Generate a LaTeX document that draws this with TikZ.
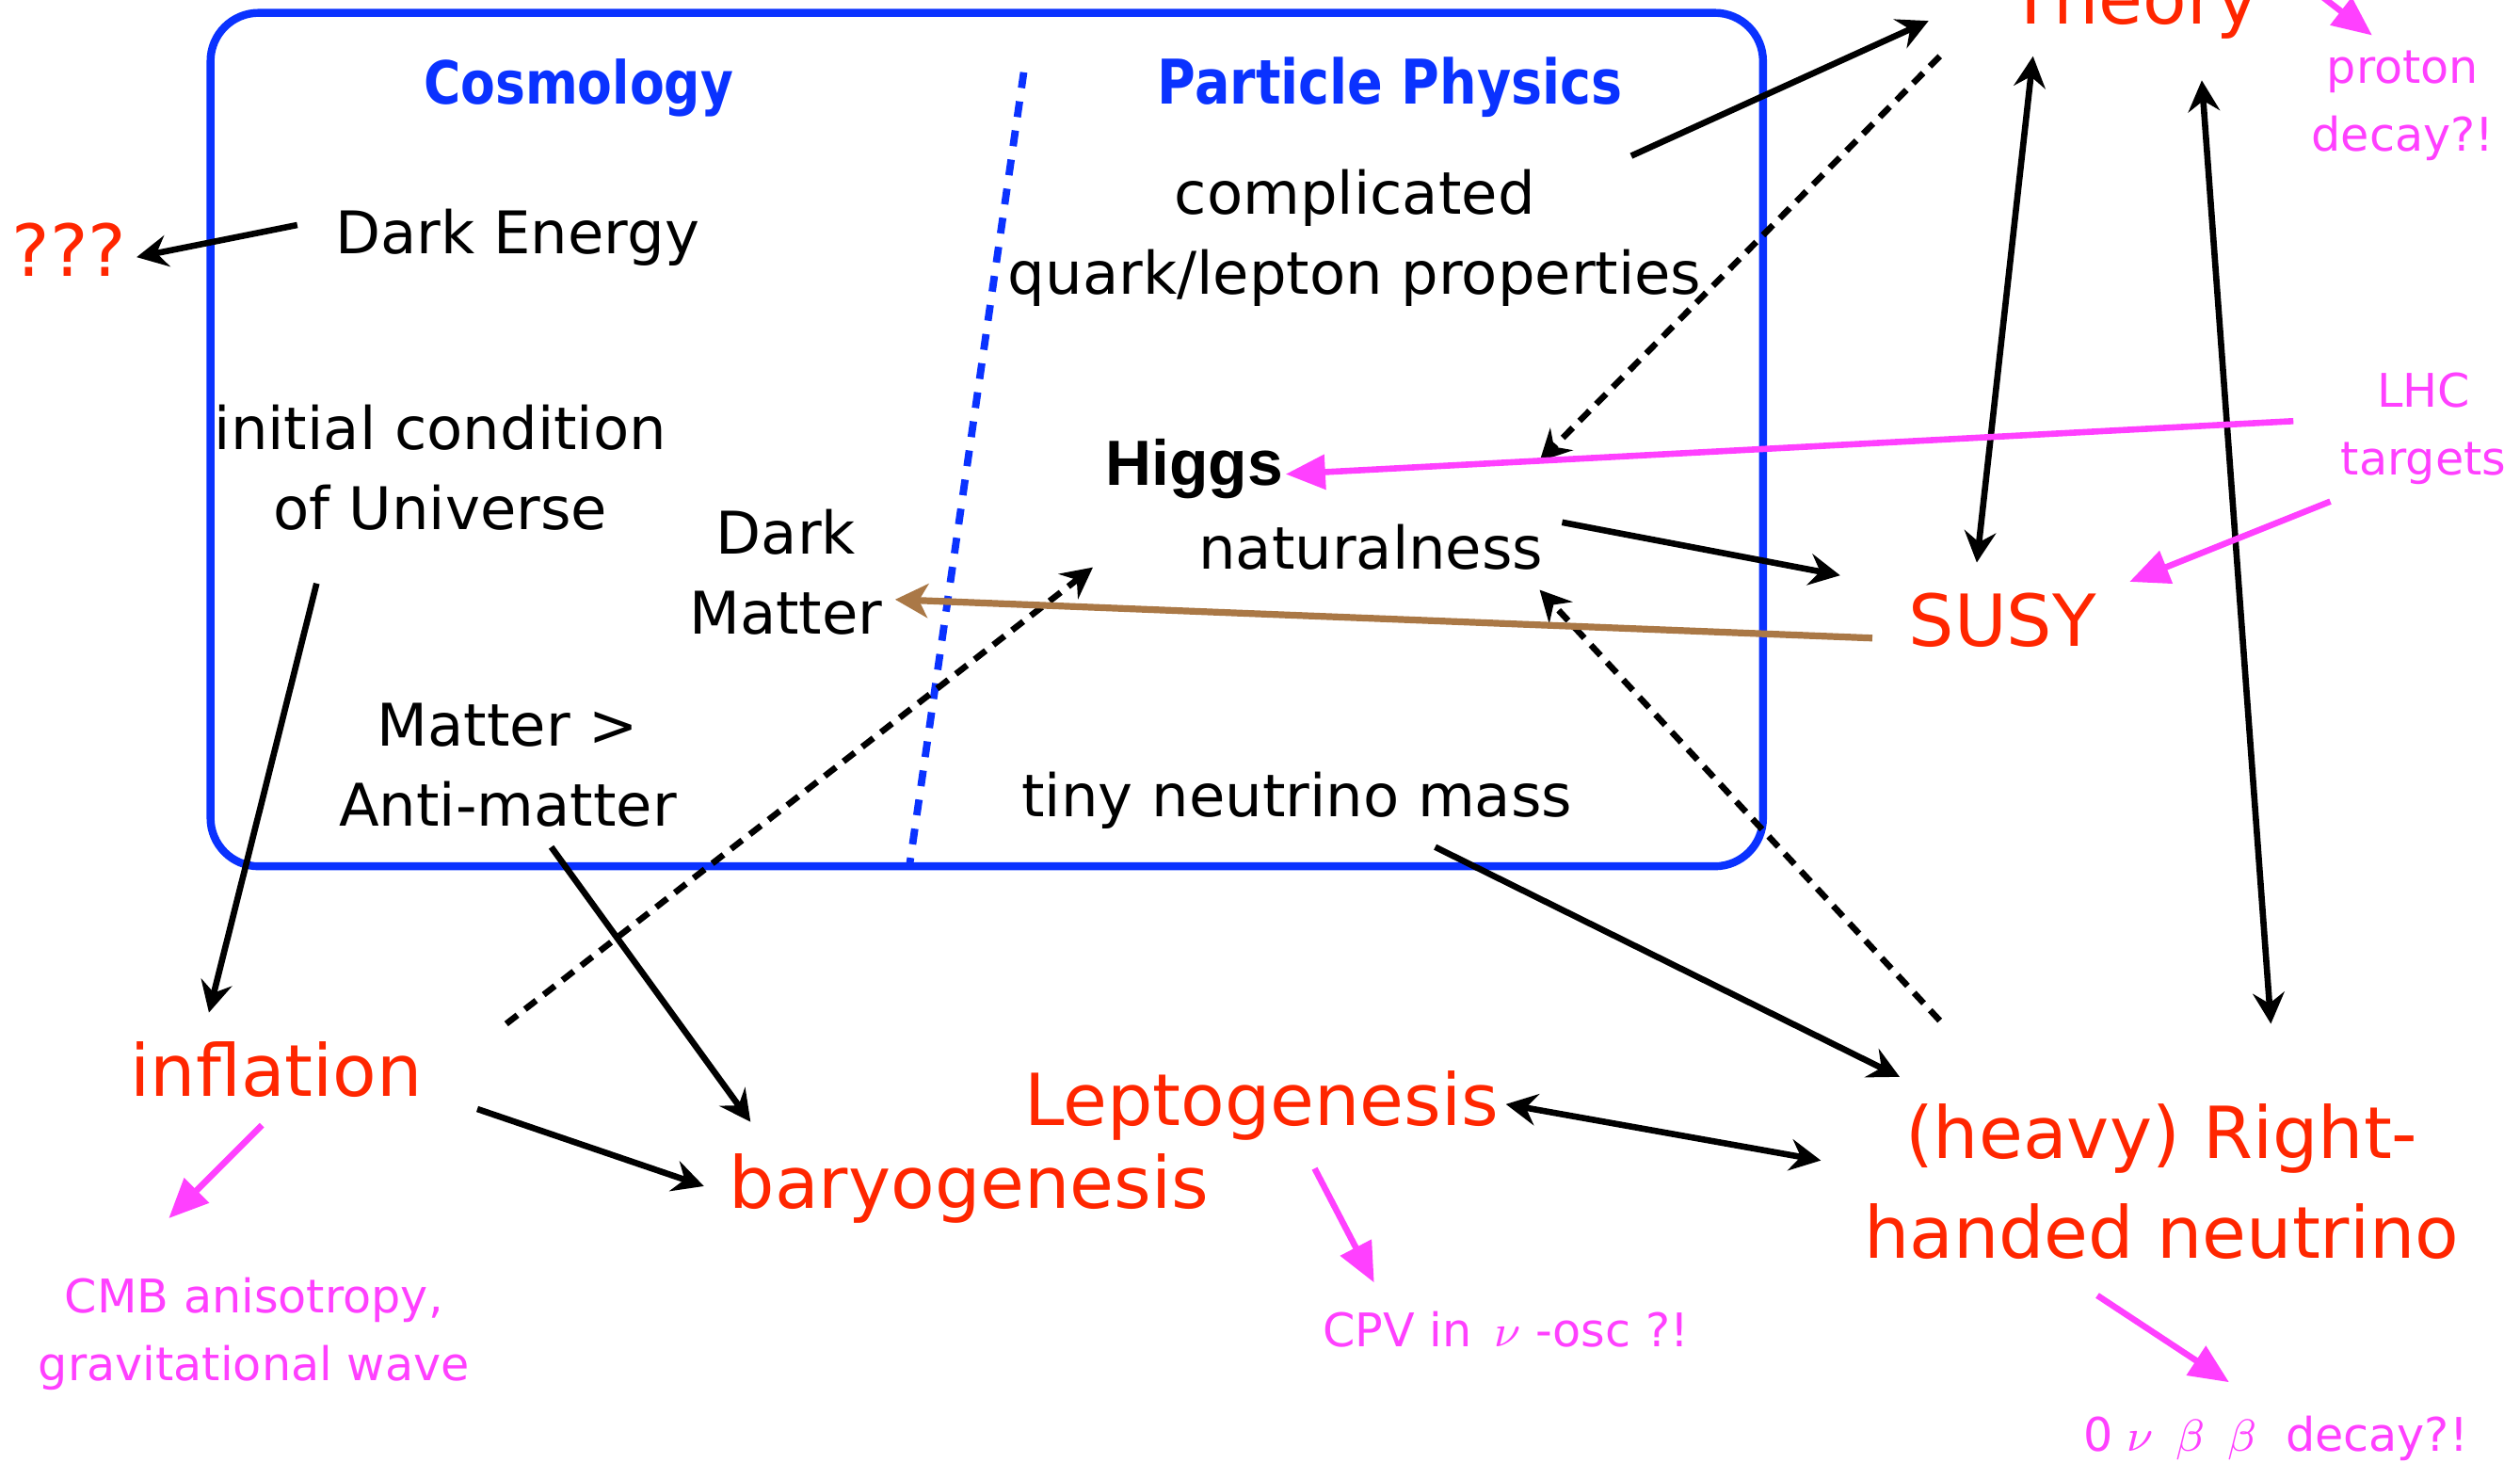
\documentclass[tikz,border=0pt]{standalone}
\usepackage{fontspec}
\setmainfont{DejaVu Sans}
\newfontfamily\condsans[FakeStretch=0.85]{DejaVu Sans}
\newfontfamily\higgsfont{Liberation Sans}
\usetikzlibrary{arrows.meta}
\definecolor{boxblue}{RGB}{10,50,255}
\definecolor{redtxt}{RGB}{255,38,0}
\definecolor{magtxt}{RGB}{255,64,255}
\definecolor{browntxt}{RGB}{170,120,70}
\tikzset{
  blk/.style={font=\fontsize{10.4}{14.2}\selectfont, inner sep=0pt, align=center},
  hdr/.style={font=\condsans\bfseries\fontsize{10.5}{12}\selectfont, text=boxblue, inner sep=0pt},
  rtx/.style={font=\fontsize{12.7}{17.6}\selectfont, text=redtxt, inner sep=0pt, align=center},
  mtx/.style={font=\fontsize{8.2}{12}\selectfont, text=magtxt, inner sep=0pt, align=center},
  arr/.style={line width=1.1pt, -{Stealth[length=5.5pt,width=5.6pt,inset=1.9pt]}},
  darr/.style={line width=1.1pt, {Stealth[length=5.5pt,width=5.6pt,inset=1.9pt]}-{Stealth[length=5.5pt,width=5.6pt,inset=1.9pt]}},
  dsh/.style={dash pattern=on 2.5pt off 1.7pt},
  marr/.style={magtxt, line width=1.1pt, -{Triangle[length=7pt,width=6pt]}},
  brarr/.style={browntxt, line width=1.2pt, -{Stealth[length=5.8pt,width=6pt,inset=1.6pt]}}
}
\begin{document}
\begin{tikzpicture}[x=0.01cm,y=-0.01cm]
\useasboundingbox (0,0) rectangle (1568,910);
\clip (0,0) rectangle (1568,910);
% box and divider
\draw[boxblue, line width=1.4pt, rounded corners=0.3cm] (131,8) rectangle (1097,539);
\draw[boxblue, line width=1.3pt, dash pattern=on 2.8pt off 2.4pt] (637,45) -- (566,538);
% headers
\node[hdr, anchor=base] (cos) at (360,65) {Cosmology};
\node[hdr, anchor=base, font=\condsans\bfseries\fontsize{10.9}{12}\selectfont] (pp) at (865,65) {Particle Physics};
% black texts
\node[blk, anchor=base] (de) at (322,158) {Dark Energy};
\node[blk] (cq) at (843,148) {complicated\\quark/lepton properties};
\node[blk] (ic) at (274,291) {initial condition\\of Universe};
\node[blk] (dm) at (489,356) {Dark\\Matter};
\node[blk, anchor=base, font=\higgsfont\bfseries\fontsize{11.3}{13}\selectfont] (hig) at (743,302) {Higgs};
\node[blk, anchor=base] (nat) at (853,354) {naturalness};
\node[blk] (mam) at (316,476) {Matter >\\Anti-matter};
\node[blk, anchor=base] (tnm) at (807,508) {tiny neutrino mass};
% red texts
\node[rtx, anchor=base] (qqq) at (43,172) {???};
\node[rtx, anchor=base] (th) at (1328,15) {Theory};
\node[rtx, anchor=base] (susy) at (1246,402) {SUSY};
\node[rtx, anchor=base] (inf) at (172,682) {inflation};
\node[rtx, anchor=base] (bar) at (603,752) {baryogenesis};
\node[rtx, anchor=base] (lep) at (785,700) {Leptogenesis};
\node[rtx] (rhn) at (1345,735) {(heavy) Right-\\handed neutrino};
% magenta texts
\node[mtx] (pd) at (1495,66) {proton\\decay?!};
\node[mtx] (lhc) at (1508,267) {LHC\\targets};
\node[mtx] (cmb) at (158,830) {CMB anisotropy,\\gravitational wave};
\node[mtx, anchor=base] (cpv) at (937,838) {CPV in \,$\nu$ -osc ?!};
\node[mtx, anchor=base] (onbb) at (1416,903) {0\hspace{2.5pt}$\nu$\hspace{4pt}$\beta$\hspace{4pt}$\beta$\hspace{5pt}decay?!};
% connector end points
\coordinate (deA) at (185,140); \coordinate (qqqA) at (85,160);
\coordinate (cqA) at (1015,97); \coordinate (thA) at (1200,13);
\coordinate (thB) at (1207,35); \coordinate (higA) at (958,287);
\coordinate (thC) at (1265,35); \coordinate (susyA) at (1230,350);
\coordinate (thD) at (1370,50); \coordinate (rhnA) at (1413,637);
\coordinate (natA) at (972,325); \coordinate (susyB) at (1145,358);
\coordinate (tnmA) at (893,527); \coordinate (rhnB) at (1182,670);
\coordinate (lepA) at (937,687); \coordinate (rhnC) at (1133,722);
\coordinate (icA) at (197,363); \coordinate (infA) at (130,630);
\coordinate (mamA) at (343,527); \coordinate (barA) at (467,698);
\coordinate (infB) at (297,690); \coordinate (barB) at (438,738);
\coordinate (infC) at (315,637); \coordinate (natB) at (680,353);
\coordinate (rhnD) at (1207,635); \coordinate (natC) at (958,367);
\coordinate (susyC) at (1165,397); \coordinate (dmA) at (557,373);
\coordinate (lhcA) at (1427,262); \coordinate (higB) at (800,295);
\coordinate (lhcB) at (1450,312); \coordinate (susyD) at (1325,362);
\coordinate (thE) at (1445,-2); \coordinate (pdA) at (1476,22);
\coordinate (infD) at (163,700); \coordinate (cmbA) at (105,758);
\coordinate (lepB) at (818,727); \coordinate (cpvA) at (855,798);
\coordinate (rhnE) at (1305,806); \coordinate (onbbA) at (1387,860);
% black connectors
\draw[arr] (deA) -- (qqqA);
\draw[arr] (cqA) -- (thA);
\draw[arr, dsh] (thB) -- (higA);
\draw[darr] (thC) -- (susyA);
\draw[darr] (thD) -- (rhnA);
\draw[arr] (natA) -- (susyB);
\draw[arr] (tnmA) -- (rhnB);
\draw[darr] (lepA) -- (rhnC);
\draw[arr] (icA) -- (infA);
\draw[arr] (mamA) -- (barA);
\draw[arr] (infB) -- (barB);
\draw[arr, dsh] (infC) -- (natB);
\draw[arr, dsh] (rhnD) -- (natC);
% brown connector
\draw[brarr] (susyC) -- (dmA);
% magenta connectors
\draw[marr] (lhcA) -- (higB);
\draw[marr] (lhcB) -- (susyD);
\draw[marr] (thE) -- (pdA);
\draw[marr] (infD) -- (cmbA);
\draw[marr] (lepB) -- (cpvA);
\draw[marr] (rhnE) -- (onbbA);
\end{tikzpicture}
\end{document}
